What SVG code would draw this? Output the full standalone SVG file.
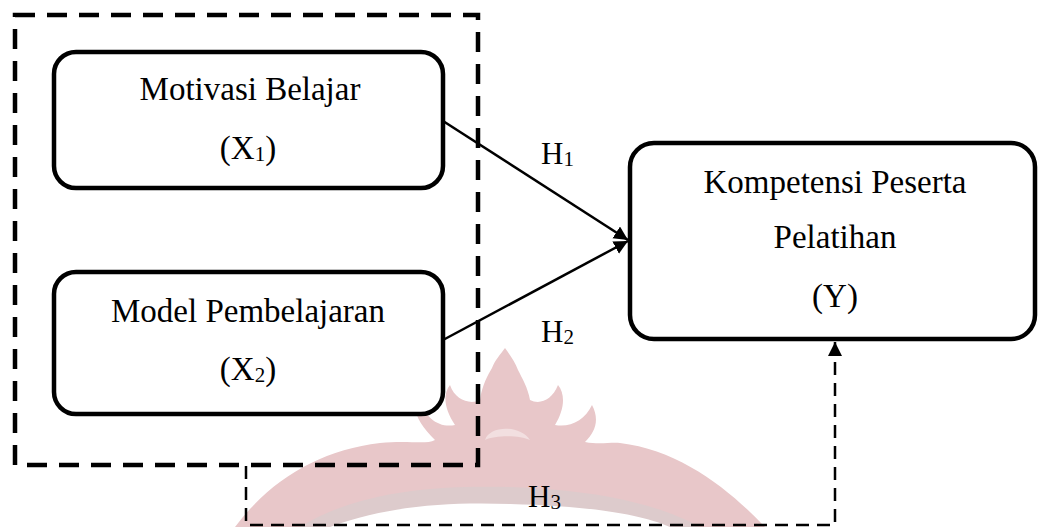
<svg xmlns="http://www.w3.org/2000/svg" width="1039" height="527" viewBox="0 0 1039 527">
<style>
.node{fill:#fff;stroke:#000;stroke-width:4.5}
.lbl{font-family:"Liberation Serif","Times New Roman",serif;font-size:33px;fill:#000;text-anchor:middle}
.h{font-family:"Liberation Serif","Times New Roman",serif;font-size:31px;fill:#000}
.sub{font-size:21px}
.edge{stroke:#000;stroke-width:2.5;fill:none}
.dash{stroke:#000;stroke-width:2.5;fill:none;stroke-dasharray:13 8}
.wm{fill:#e8c7c9}
</style>
<defs>
<marker id="arr" markerUnits="userSpaceOnUse" markerWidth="16" markerHeight="16" refX="14" refY="7" orient="auto">
<path d="M0,0 L14,7 L0,14 Z" fill="#000"/>
</marker>
</defs>
<rect width="1039" height="527" fill="#fff"/>
<g id="watermark">
<path class="wm" d="M235,527 C270,480 320,450 380,443 C410,440 425,445 435,440 C420,425 410,410 418,395 C425,420 440,428 455,425 C445,410 442,395 450,385 C455,400 470,405 480,400 C482,385 488,375 492,368 C495,360 500,355 505,348 C510,355 515,362 518,370 C522,378 528,388 530,400 C540,405 552,400 558,385 C566,395 564,410 555,425 C570,428 585,420 592,405 C600,420 595,432 585,442 C600,445 610,442 620,443 C680,450 730,490 765,527 Z"/>
<path d="M300,527 C360,490 440,485 510,487 C600,490 660,505 700,527 Z" fill="#ddcbcc"/>
<path d="M330,527 C390,505 450,502 510,504 C590,506 640,514 670,527 Z" fill="#fff"/>
<path d="M485,440 C490,425 520,425 530,440 C520,435 495,435 485,440 Z" fill="#f2dfe0"/>
</g>
<g id="connectors">
<path class="edge" d="M443,121 L628,240" marker-end="url(#arr)"/>
<path class="edge" d="M443,340 L628,241" marker-end="url(#arr)"/>
<path class="dash" d="M246,466 V525 H835 V342" marker-end="url(#arr)"/>
<text class="h" x="541" y="164">H<tspan class="sub" dy="2">1</tspan></text>
<text class="h" x="541" y="342">H<tspan class="sub" dy="2">2</tspan></text>
<text class="h" x="528" y="507">H<tspan class="sub" dy="2">3</tspan></text>
</g>
<g id="group-x">
<path d="M15,15 H478 V465 H15 Z" fill="none" stroke="#000" stroke-width="4.5" stroke-dasharray="20 12"/>
</g>
<g id="node-x1">
<rect class="node" x="54" y="52" width="389" height="136" rx="22"/>
<text class="lbl" x="250" y="100">Motivasi Belajar</text>
<text class="lbl" x="248" y="159">(X<tspan class="sub" dy="2">1</tspan><tspan dy="-2">)</tspan></text>
</g>
<g id="node-x2">
<rect class="node" x="54" y="272" width="389" height="142" rx="22"/>
<text class="lbl" x="248" y="322">Model Pembelajaran</text>
<text class="lbl" x="248" y="380">(X<tspan class="sub" dy="2">2</tspan><tspan dy="-2">)</tspan></text>
</g>
<g id="node-y">
<rect class="node" x="630" y="143" width="405" height="196" rx="24"/>
<text class="lbl" x="835" y="193">Kompetensi Peserta</text>
<text class="lbl" x="835" y="248">Pelatihan</text>
<text class="lbl" x="835" y="307">(Y)</text>
</g>
</svg>
